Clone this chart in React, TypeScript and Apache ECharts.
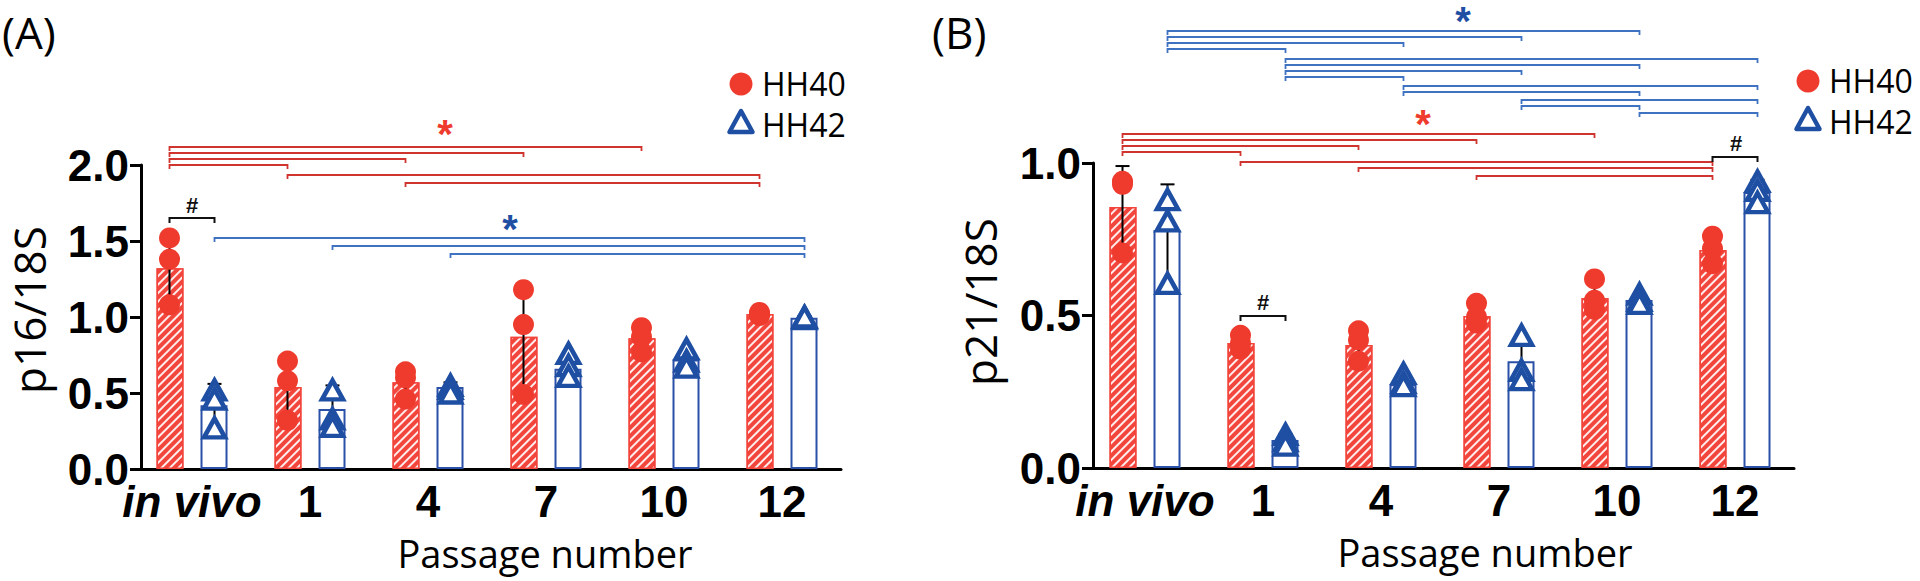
import React, { useEffect, useRef } from 'react';
import * as echarts from 'echarts';

// ---------- DATA ----------
const CATEGORIES = ['in vivo', '1', '4', '7', '10', '12'];

// Panel A: p16/18S
const A_HH40_MEAN = [1.32, 0.54, 0.57, 0.87, 0.86, 1.02];
const A_HH40_SD = [0.235, 0.195, 0.09, 0.34, 0.08, 0.01];
const A_HH40_POINTS = [[1.52, 1.38, 1.08], [0.71, 0.58, 0.32], [0.64, 0.6, 0.46], [1.18, 0.95, 0.49], [0.93, 0.87, 0.77], [1.03, 1.01, 1.02]];
const A_HH42_MEAN = [0.42, 0.395, 0.54, 0.66, 0.72, 0.995];
const A_HH42_SD = [0.14, 0.155, 0.03, 0.08, 0.07, 0.01];
const A_HH42_POINTS = [[0.52, 0.46, 0.27], [0.52, 0.33, 0.28], [0.55, 0.53, 0.5], [0.76, 0.68, 0.61], [0.79, 0.71, 0.67], [1.0, 0.99, 1.0]];

// Panel B: p21/18S
const B_HH40_MEAN = [0.856, 0.41, 0.403, 0.498, 0.557, 0.715];
const B_HH40_SD = [0.134, 0.02, 0.05, 0.03, 0.05, 0.045];
const B_HH40_POINTS = [[0.94, 0.93, 0.705], [0.435, 0.41, 0.39], [0.45, 0.42, 0.35], [0.54, 0.495, 0.475], [0.62, 0.55, 0.52], [0.76, 0.72, 0.67]];
const B_HH42_MEAN = [0.78, 0.092, 0.275, 0.35, 0.551, 0.905];
const B_HH42_SD = [0.15, 0.02, 0.02, 0.075, 0.015, 0.04];
const B_HH42_POINTS = [[0.88, 0.81, 0.605], [0.11, 0.09, 0.075], [0.31, 0.28, 0.27], [0.435, 0.32, 0.29], [0.57, 0.55, 0.54], [0.94, 0.91, 0.87]];

// Significance comparisons [fromCategory, toCategory]
const A_RED_PAIRS = [[0, 4], [0, 3], [0, 2], [0, 1], [1, 5], [2, 5]];
const A_BLUE_PAIRS = [[0, 5], [1, 5], [2, 5]];
const A_HASH_CATS = [0];
const B_RED_PAIRS = [[0, 4], [0, 3], [0, 2], [0, 1], [1, 5], [2, 5], [3, 5]];
const B_BLUE_PAIRS = [[0, 4], [0, 3], [0, 2], [0, 1], [1, 5], [1, 4], [1, 3], [1, 2], [2, 5], [2, 4], [3, 5], [3, 4], [4, 5]];
const B_HASH_CATS = [1, 5];

// ---------- LAYOUT / STYLE ----------
const A_RED_Y = [147, 153, 159, 165, 175, 183];
const A_BLUE_Y = [238, 246, 254];
const A_HASH_Y = [218];
const B_RED_Y = [134, 140, 146, 152, 162, 168, 176];
const B_BLUE_Y = [31, 37, 43, 49, 59, 65, 71, 77, 86, 92, 100, 106, 113];
const B_HASH_Y = [316, 157];

const RED = '#ee3b2d';
const RED_BAR = '#f2453c';
const RED_LINE = '#d0342f';
const BLUE = '#1f4fa3';
const BLUE_BAR = '#2b50a8';
const BLUE_LINE = '#3f72c0';
const OFF40 = -22.5;
const OFF42 = 22.5;
const BOLD_FONT = '"Liberation Sans", Arial, sans-serif';
const TEXT_FONT = '"Open Sans", "Noto Sans", sans-serif';
const TICK_SIZE = 44;

const errRender = (offset: number) => (params: any, api: any) => {
  const c = api.value(0), m = api.value(1), sd = api.value(2);
  const top = api.coord([c, m + sd]);
  const bot = api.coord([c, Math.max(0, m - sd)]);
  const x = top[0] + offset;
  return {
    type: 'group',
    children: [
      { type: 'line', shape: { x1: x, y1: bot[1], x2: x, y2: top[1] }, style: { stroke: '#000', lineWidth: 2 } },
      { type: 'line', shape: { x1: x - 7, y1: top[1], x2: x + 7, y2: top[1] }, style: { stroke: '#000', lineWidth: 2 } },
    ],
  };
};

const bracketRender = (levels: number[], off1: number, off2: number, color: string, lw: number, tick: number) =>
  (params: any, api: any) => {
    const s = api.value(0), e = api.value(1);
    const x1 = api.coord([s, 0])[0] + off1;
    const x2 = api.coord([e, 0])[0] + off2;
    const y = levels[params.dataIndex];
    return {
      type: 'polyline',
      shape: { points: [[x1, y + tick], [x1, y], [x2, y], [x2, y + tick]] },
      style: { stroke: color, lineWidth: lw, fill: null },
    };
  };

const flatPoints = (pts: number[][]) => {
  const out: number[][] = [];
  pts.forEach((arr, i) => arr.forEach((v) => out.push([i, v])));
  return out;
};

const hatch = {
  symbol: 'rect',
  symbolSize: 1,
  color: 'rgba(255,255,255,0.9)',
  dashArrayX: [[1, 0]],
  dashArrayY: [2, 4],
  rotation: -Math.PI / 4,
};

function panelSeries(g: number, m40: number[], sd40: number[], p40: number[][], m42: number[], sd42: number[], p42: number[][],
  redPairs: number[][], redY: number[], bluePairs: number[][], blueY: number[], hashCats: number[], hashY: number[]) {
  return [
    {
      type: 'bar', name: 'HH40', xAxisIndex: g, yAxisIndex: g, data: m40, barWidth: 27, barGap: '63%',
      itemStyle: { color: RED_BAR, borderColor: RED_BAR, borderWidth: 1.5, decal: hatch }, z: 2,
    },
    {
      type: 'bar', name: 'HH42', xAxisIndex: g, yAxisIndex: g, data: m42, barWidth: 27, barGap: '63%',
      itemStyle: { color: '#ffffff', borderColor: BLUE_BAR, borderWidth: 2 }, z: 2,
    },
    {
      type: 'custom', xAxisIndex: g, yAxisIndex: g, renderItem: errRender(OFF40),
      data: m40.map((m, i) => [i, m, sd40[i]]), encode: { x: 0, y: 1 }, z: 3, clip: false,
    },
    {
      type: 'custom', xAxisIndex: g, yAxisIndex: g, renderItem: errRender(OFF42),
      data: m42.map((m, i) => [i, m, sd42[i]]), encode: { x: 0, y: 1 }, z: 3, clip: false,
    },
    {
      type: 'scatter', xAxisIndex: g, yAxisIndex: g, data: flatPoints(p40), symbol: 'circle', symbolSize: 21,
      symbolOffset: [OFF40, 0], itemStyle: { color: RED, opacity: 1 }, z: 4,
    },
    {
      type: 'scatter', xAxisIndex: g, yAxisIndex: g, data: flatPoints(p42), symbol: 'triangle', symbolSize: [21, 19],
      symbolOffset: [OFF42, 0], itemStyle: { color: '#ffffff', borderColor: BLUE, borderWidth: 4.5, opacity: 1 }, z: 5,
    },
    {
      type: 'custom', xAxisIndex: g, yAxisIndex: g, renderItem: bracketRender(redY, OFF40, OFF40, RED_LINE, 1.8, 4),
      data: redPairs.map((p) => [p[0], p[1], 0]), encode: { x: [0, 1], y: 2 }, z: 6, clip: false, silent: true,
    },
    {
      type: 'custom', xAxisIndex: g, yAxisIndex: g, renderItem: bracketRender(blueY, OFF42, OFF42, BLUE_LINE, 1.8, 4),
      data: bluePairs.map((p) => [p[0], p[1], 0]), encode: { x: [0, 1], y: 2 }, z: 6, clip: false, silent: true,
    },
    {
      type: 'custom', xAxisIndex: g, yAxisIndex: g, renderItem: bracketRender(hashY, OFF40, OFF42, '#111', 2, 5),
      data: hashCats.map((c) => [c, c, 0]), encode: { x: [0, 1], y: 2 }, z: 6, clip: false, silent: true,
    },
  ];
}

function xAxisCfg(g: number) {
  return {
    type: 'category', gridIndex: g, data: CATEGORIES,
    axisLine: { lineStyle: { color: '#000', width: 3 } },
    axisTick: { alignWithLabel: true, length: 12, lineStyle: { color: '#000', width: 3 } },
    axisLabel: {
      interval: 0, margin: 10, color: '#000', fontSize: TICK_SIZE, fontWeight: 'bold', fontFamily: BOLD_FONT,
      formatter: (v: string) => (v === 'in vivo' ? '{i|in vivo}' : v),
      rich: { i: { fontStyle: 'italic', fontWeight: 'bold', fontSize: TICK_SIZE, fontFamily: BOLD_FONT, color: '#000' } },
    },
  };
}

function yAxisCfg(g: number, max: number, offset: number) {
  return {
    type: 'value', gridIndex: g, min: 0, max, interval: 0.5, offset,
    axisLine: { show: true, lineStyle: { color: '#000', width: 3 } },
    axisTick: { show: true, length: 11, lineStyle: { color: '#000', width: 3 } },
    splitLine: { show: false },
    axisLabel: {
      margin: 12, color: '#000', fontSize: TICK_SIZE, fontWeight: 'bold', fontFamily: BOLD_FONT,
      formatter: (v: number) => v.toFixed(1),
    },
  };
}

const txt = (text: string, x: number, y: number, size: number, fill: string, opts: any = {}) => ({
  type: 'text', x, y, rotation: opts.rotation || 0, z: 10,
  style: {
    text, fill, fontSize: size, fontFamily: opts.font || TEXT_FONT, fontWeight: opts.weight || 'normal',
    textAlign: opts.align || 'center', textVerticalAlign: 'middle', lineHeight: size,
  },
});

function legend(cx: number, y1: number, y2: number) {
  return [
    { type: 'circle', shape: { cx, cy: y1, r: 11.5 }, style: { fill: RED }, z: 10 },
    {
      type: 'polygon', shape: { points: [[cx, y2 - 11], [cx - 11.5, y2 + 10], [cx + 11.5, y2 + 10]] },
      style: { fill: '#fff', stroke: BLUE, lineWidth: 4.5, lineJoin: 'round' }, z: 10,
    },
    txt('HH40', cx + 21, y1 - 1, 32, '#000', { align: 'left' }),
    txt('HH42', cx + 21, y2 + 2, 32, '#000', { align: 'left' }),
  ];
}

export default function App() {
  const ref = useRef<HTMLDivElement>(null);
  useEffect(() => {
    document.body.style.margin = '0';
    const chart = echarts.init(ref.current!, undefined, { renderer: 'svg' });
    chart.setOption({
      animation: false,
      backgroundColor: '#fff',
      grid: [
        { left: 133, top: 165, width: 708, height: 304 },
        { left: 1086, top: 163, width: 708, height: 305 },
      ],
      xAxis: [xAxisCfg(0), xAxisCfg(1)],
      yAxis: [yAxisCfg(0, 2, -8), yAxisCfg(1, 1, -7)],
      series: [
        ...panelSeries(0, A_HH40_MEAN, A_HH40_SD, A_HH40_POINTS, A_HH42_MEAN, A_HH42_SD, A_HH42_POINTS,
          A_RED_PAIRS, A_RED_Y, A_BLUE_PAIRS, A_BLUE_Y, A_HASH_CATS, A_HASH_Y),
        ...panelSeries(1, B_HH40_MEAN, B_HH40_SD, B_HH40_POINTS, B_HH42_MEAN, B_HH42_SD, B_HH42_POINTS,
          B_RED_PAIRS, B_RED_Y, B_BLUE_PAIRS, B_BLUE_Y, B_HASH_CATS, B_HASH_Y),
      ],
      graphic: [
        txt('(A)', 2, 32, 44, '#000', { align: 'left' }),
        txt('(B)', 932, 32, 44, '#000', { align: 'left' }),
        txt('p16/18S', 29, 310, 44, '#000', { rotation: Math.PI / 2 }),
        txt('p21/18S', 980, 302, 44, '#000', { rotation: Math.PI / 2 }),
        txt('Passage number', 545, 553, 38, '#000'),
        txt('Passage number', 1485, 552, 38, '#000'),
        txt('*', 445, 134, 40, RED, { font: BOLD_FONT, weight: 'bold' }),
        txt('*', 510, 229, 40, BLUE, { font: BOLD_FONT, weight: 'bold' }),
        txt('*', 1423, 124, 40, RED, { font: BOLD_FONT, weight: 'bold' }),
        txt('*', 1463, 21, 40, BLUE, { font: BOLD_FONT, weight: 'bold' }),
        txt('#', 192, 205, 22, '#111', { font: BOLD_FONT, weight: 'bold' }),
        txt('#', 1263, 302, 22, '#111', { font: BOLD_FONT, weight: 'bold' }),
        txt('#', 1736, 143, 22, '#111', { font: BOLD_FONT, weight: 'bold' }),
        ...legend(741, 84, 122),
        ...legend(1808, 81, 119),
      ],
    });
    return () => chart.dispose();
  }, []);
  return <div ref={ref} style={{ width: 1920, height: 581 }} />;
}
